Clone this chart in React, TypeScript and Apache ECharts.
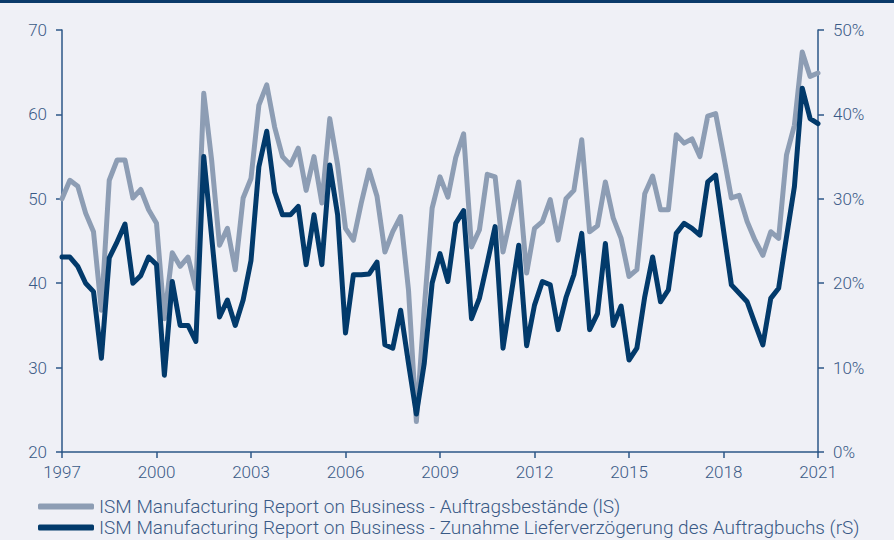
import React, { useEffect, useRef } from "react";
import * as echarts from "echarts";

// Quarterly data, 1997 Q1 .. 2021 Q1
const startYear = 1997;

// ISM Auftragsbestände (left scale)
const backlog: number[] = [
  50.0, 52.2, 51.5, 48.3, 46.1, 36.8, 52.2, 54.6, 54.6, 50.1, 51.1, 48.7, 47.1,
  35.8, 43.6, 42.0, 43.1, 39.4, 62.5, 54.6, 44.5, 46.5, 41.6, 50.1, 52.4, 61.1,
  63.5, 58.5, 55.0, 54.0, 56.0, 51.0, 55.0, 49.5, 59.5, 54.0, 46.5, 45.1, 49.5,
  53.4, 50.3, 43.7, 46.1, 47.9, 39.2, 23.6, 37.0, 48.9, 52.6, 50.2, 54.9, 57.7,
  44.3, 46.3, 52.9, 52.6, 43.7, 47.9, 52.0, 41.2, 46.5, 47.3, 49.9, 45.1, 50.0,
  51.0, 57.0, 46.1, 46.8, 52.0, 47.7, 45.3, 40.8, 41.6, 50.6, 52.7, 48.7, 48.7,
  57.6, 56.6, 57.1, 55.0, 59.8, 60.1, 55.2, 50.1, 50.4, 47.3, 45.1, 43.3, 46.1,
  45.3, 55.2, 58.7, 67.4, 64.5, 64.9,
];

// Zunahme Lieferverzögerung des Auftragbuchs, % (right scale)
const delivery: number[] = [
  23.1, 23.1, 22.0, 20.0, 19.0, 11.1, 23.0, 24.9, 27.0, 20.0, 20.9, 23.1, 22.2,
  9.1, 20.2, 15.0, 15.0, 13.1, 35.0, 25.5, 16.0, 18.0, 15.0, 18.0, 22.7, 33.8,
  38.0, 30.8, 28.1, 28.1, 29.1, 22.2, 28.1, 22.2, 34.0, 28.1, 14.1, 21.0, 21.0,
  21.1, 22.5, 12.7, 12.3, 16.8, 10.5, 4.5, 10.5, 20.0, 23.5, 20.2, 27.1, 28.6,
  15.8, 18.2, 22.4, 26.7, 12.3, 18.4, 24.5, 12.6, 17.4, 20.2, 19.8, 14.5, 18.3,
  21.0, 25.9, 14.5, 16.4, 24.7, 15.0, 17.3, 10.9, 12.3, 18.4, 23.1, 17.8, 19.2,
  25.9, 27.1, 26.5, 25.7, 32.0, 32.8, 26.3, 19.8, 18.8, 17.8, 15.2, 12.7, 18.2,
  19.4, 25.5, 31.4, 43.1, 39.5, 38.9,
];

const quarters: string[] = backlog.map(
  (_, i) => `${startYear + Math.floor(i / 4)} Q${(i % 4) + 1}`
);

const seriesNames = [
  "ISM Manufacturing Report on Business - Auftragsbestände (lS)",
  "ISM Manufacturing Report on Business - Zunahme Lieferverzögerung des Auftragbuchs (rS)",
];

const FONT = "Roboto";
const TEXT = "#3a5a86";
const AXIS = "#2c5787";
const GRAY = "#8d9db4";
const NAVY = "#023a6b";

export default function App() {
  const ref = useRef<HTMLDivElement>(null);

  useEffect(() => {
    if (!ref.current) return;
    const chart = echarts.init(ref.current, undefined, { renderer: "svg" });
    chart.setOption({
      animation: false,
      backgroundColor: "#eff0f6",
      textStyle: { fontFamily: FONT, fontWeight: 300 },
      graphic: [
        {
          type: "rect",
          left: 0,
          top: 0,
          shape: { width: 894, height: 3 },
          style: { fill: "#0b3a6a" },
        },
      ],
      grid: { left: 62, right: 76, top: 30, bottom: 88, containLabel: false },
      legend: {
        orient: "vertical",
        left: 38,
        top: 497,
        padding: 0,
        itemWidth: 56,
        itemHeight: 6,
        itemGap: 2,
        icon: "roundRect",
        textStyle: {
          fontFamily: FONT,
          fontWeight: 300,
          fontSize: 19,
          lineHeight: 18,
          color: TEXT,
        },
        data: seriesNames,
      },
      xAxis: {
        type: "category",
        data: quarters,
        boundaryGap: false,
        axisLine: { lineStyle: { color: AXIS, width: 1.5 } },
        axisTick: {
          show: true,
          interval: 11,
          length: 6,
          lineStyle: { color: AXIS, width: 1.5 },
        },
        axisLabel: {
          interval: 11,
          margin: 11,
          fontFamily: FONT,
          fontWeight: 300,
          fontSize: 17,
          color: TEXT,
          formatter: (v: string) => v.slice(0, 4),
        },
        splitLine: { show: false },
      },
      yAxis: [
        {
          type: "value",
          min: 20,
          max: 70,
          interval: 10,
          position: "left",
          axisLine: { show: true, lineStyle: { color: AXIS, width: 1.5 } },
          axisTick: { show: true, length: 6, lineStyle: { color: AXIS, width: 1.5 } },
          axisLabel: {
            margin: 15,
            fontFamily: FONT,
            fontWeight: 300,
            fontSize: 17,
            color: TEXT,
          },
          splitLine: { show: false },
        },
        {
          type: "value",
          min: 0,
          max: 50,
          interval: 10,
          position: "right",
          axisLine: { show: true, lineStyle: { color: AXIS, width: 1.5 } },
          axisTick: { show: true, length: 6, lineStyle: { color: AXIS, width: 1.5 } },
          axisLabel: {
            margin: 15,
            fontFamily: FONT,
            fontWeight: 300,
            fontSize: 17,
            color: TEXT,
            formatter: "{value}%",
          },
          splitLine: { show: false },
        },
      ],
      series: [
        {
          name: seriesNames[0],
          type: "line",
          yAxisIndex: 0,
          data: backlog,
          symbol: "none",
          color: GRAY,
          lineStyle: { color: GRAY, width: 5, join: "round", cap: "round" },
        },
        {
          name: seriesNames[1],
          type: "line",
          yAxisIndex: 1,
          data: delivery,
          symbol: "none",
          color: NAVY,
          lineStyle: { color: NAVY, width: 5, join: "round", cap: "round" },
        },
      ],
    });
    return () => chart.dispose();
  }, []);

  return (
    <div
      ref={ref}
      style={{ position: "fixed", left: 0, top: 0, width: 894, height: 540 }}
    />
  );
}
